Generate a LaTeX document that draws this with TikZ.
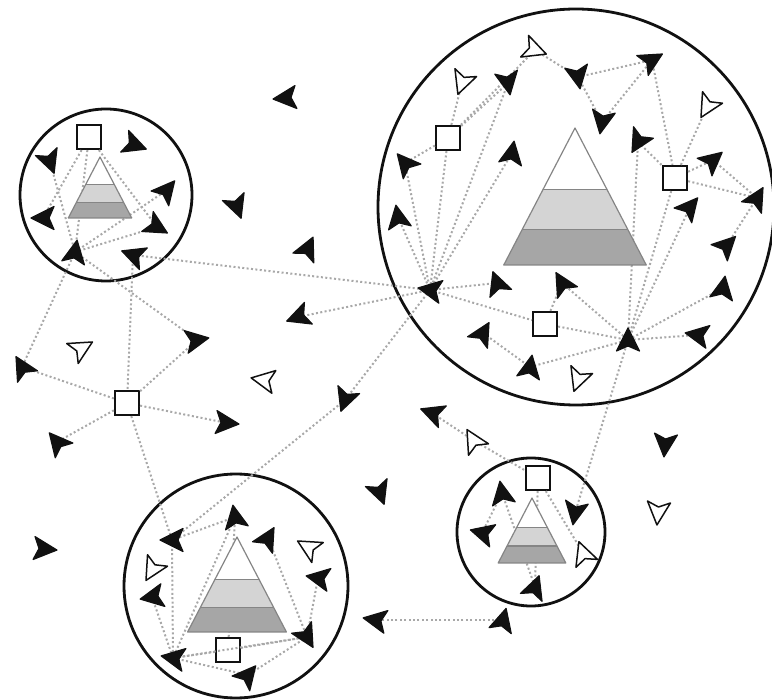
\documentclass[tikz,border=0pt]{standalone}
\definecolor{ink}{HTML}{111111}
\definecolor{linkgray}{HTML}{A8A8A8}
\definecolor{bandlight}{HTML}{D4D4D4}
\definecolor{banddark}{HTML}{A6A6A6}
\definecolor{pyrline}{HTML}{858585}
\tikzset{
  group/.style={draw=ink, line width=2.8pt},
  link/.style={draw=linkgray, line width=2pt, dash pattern=on 2pt off 2.4pt},
  sqbox/.style={draw=ink, line width=2.2pt, fill=white, minimum size=24pt, inner sep=0pt},
  agentb/.style={fill=ink, draw=ink, line width=1.2pt, line join=round},
  agentw/.style={fill=white, draw=ink, line width=1.5pt, line join=round},
  dart/.pic={\path[pic actions] (12,0) -- (-11,11.5) -- (-6,0) -- (-11,-11.5) -- cycle;},
  pyramid/.pic={
    \fill[white] (0,0) -- (0.234,0.45) -- (-0.234,0.45) -- cycle;
    \fill[bandlight] (-0.234,0.45) -- (0.234,0.45) -- (0.385,0.74) -- (-0.385,0.74) -- cycle;
    \fill[banddark] (-0.385,0.74) -- (0.385,0.74) -- (0.52,1) -- (-0.52,1) -- cycle;
    \draw[pyrline, line width=1.2pt, line join=round] (0,0) -- (0.52,1) -- (-0.52,1) -- cycle;
    \draw[pyrline, line width=1.2pt] (-0.234,0.45) -- (0.234,0.45) (-0.385,0.74) -- (0.385,0.74);
  },
}

\begin{document}
\begin{tikzpicture}[x=1pt,y=-1pt]
\useasboundingbox (0,0) rectangle (772,700);

% ---------------- agents ----------------
\def\blackagents{o1/285/98/185, o2/237/207/-70, o3/308/248/65, o4/298/317/200,
  o5/197/340/10, o6/227/423/-5, o7/22/367/120, o8/57/442/130, o9/345/400/250,
  o10/432/413/160, o11/380/493/-70, o12/375/620/170, o13/503/620/75,
  o14/665/445/-95, o15/45/549/-5,
  l1/50/162/-70, l2/135/145/-20, l3/167/190/50, l4/43/218/180, l5/157/227/-30,
  hubL/75/252/80, l6/133/255/160,
  b1/508/83/-80, b2/578/77/-80, b3/652/60/30, b4/602/122/-100, b5/405/163/130,
  b6/512/153/80, b7/638/142/240, b8/713/160/40, b9/757/198/60, b10/690/207/50,
  b11/727/245/45, b12/723/288/80, b13/697/335/170, hubC/628/340/90,
  b14/398/217/100, hubB/430/290/170, b15/497/283/110, b16/562/283/120,
  b17/483/333/60, b18/530/367/80,
  s1/502/493/100, s2/482/533/165, s3/575/513/-100, s4/535/587/70,
  d1/235/517/100, d2/172/540/180, d3/268/538/60, d4/152/597/190,
  d5/318/578/170, d6/307/637/-60, hubD/173/658/170, d7/248/675/50}
\def\whiteagents{w1/535/50/-20, w2/462/83/250, w3/707/107/240, w4/578/380/250,
  s5/583/553/110, w5/82/348/30, w6/263/380/170, w7/473/440/120,
  w8/658/513/-95, w9/308/547/150, w10/152/570/240}
\foreach \n/\x/\y/\a in \blackagents { \coordinate (\n) at (\x,\y); }
\foreach \n/\x/\y/\a in \whiteagents { \coordinate (\n) at (\x,\y); }

% ---------------- communities ----------------
\draw[group] (106,195) circle[radius=86];
\draw[group] (576,207) circle[radius=198];
\draw[group] (236,586) circle[radius=112];
\draw[group] (531,532) circle[radius=74];

% ---------------- squares ----------------
\node[sqbox] (sqA) at (89,137) {};
\node[sqbox] (sqB) at (448,138) {};
\node[sqbox] (sqC) at (675,178) {};
\node[sqbox] (sqD) at (545,324) {};
\node[sqbox] (sqE) at (127,403) {};
\node[sqbox] (sqF) at (228,650) {};
\node[sqbox] (sqG) at (538,478) {};

% ---------------- links ----------------
\foreach \a/\b in {sqA/hubL, sqA/l4, sqA/l5, l1/hubL, hubL/l3, hubL/l5,
  hubL/o7, hubL/o5, l6/hubB, l6/sqE,
  sqE/o7, sqE/o8, sqE/o5, sqE/o6, sqE/d2, o9/d2, hubB/o9, hubB/o4,
  sqB/w2, sqB/b1, sqB/w1, sqB/b5, sqB/hubB, b5/hubB, b14/hubB, b6/hubB,
  b1/hubB, hubB/b15, hubB/sqD,
  w1/b2, b2/b3, b2/b4, b3/b4, b3/sqC, sqC/w3, sqC/b8, sqC/b9, b7/sqC,
  sqC/hubC, b10/hubC, b7/hubC, b8/b9, b9/b11, b12/hubC, b13/hubC,
  sqD/hubC, b16/hubC, b18/hubC, b17/b18, sqD/b16, hubC/s3,
  o10/w7, w7/sqG, sqG/s5, s1/s2, s1/s4, sqG/s4, o13/o12,
  d2/hubD, d1/hubD, d1/d2, d4/hubD, sqF/hubD, d6/hubD, d6/d7, d7/hubD,
  d3/d6, d5/d6, sqF/d1, sqF/d6}
  { \draw[link] (\a) -- (\b); }

% ---------------- pyramids ----------------
\pic[scale=61] at (100,157) {pyramid};
\pic[scale=137] at (575,128) {pyramid};
\pic[scale=95] at (237,537) {pyramid};
\pic[scale=65] at (532,498) {pyramid};

% ---------------- darts ----------------
\foreach \n/\x/\y/\a in \blackagents { \pic[rotate=\a, agentb] at (\n) {dart}; }
\foreach \n/\x/\y/\a in \whiteagents { \pic[rotate=\a, agentw] at (\n) {dart}; }

\end{tikzpicture}
\end{document}
